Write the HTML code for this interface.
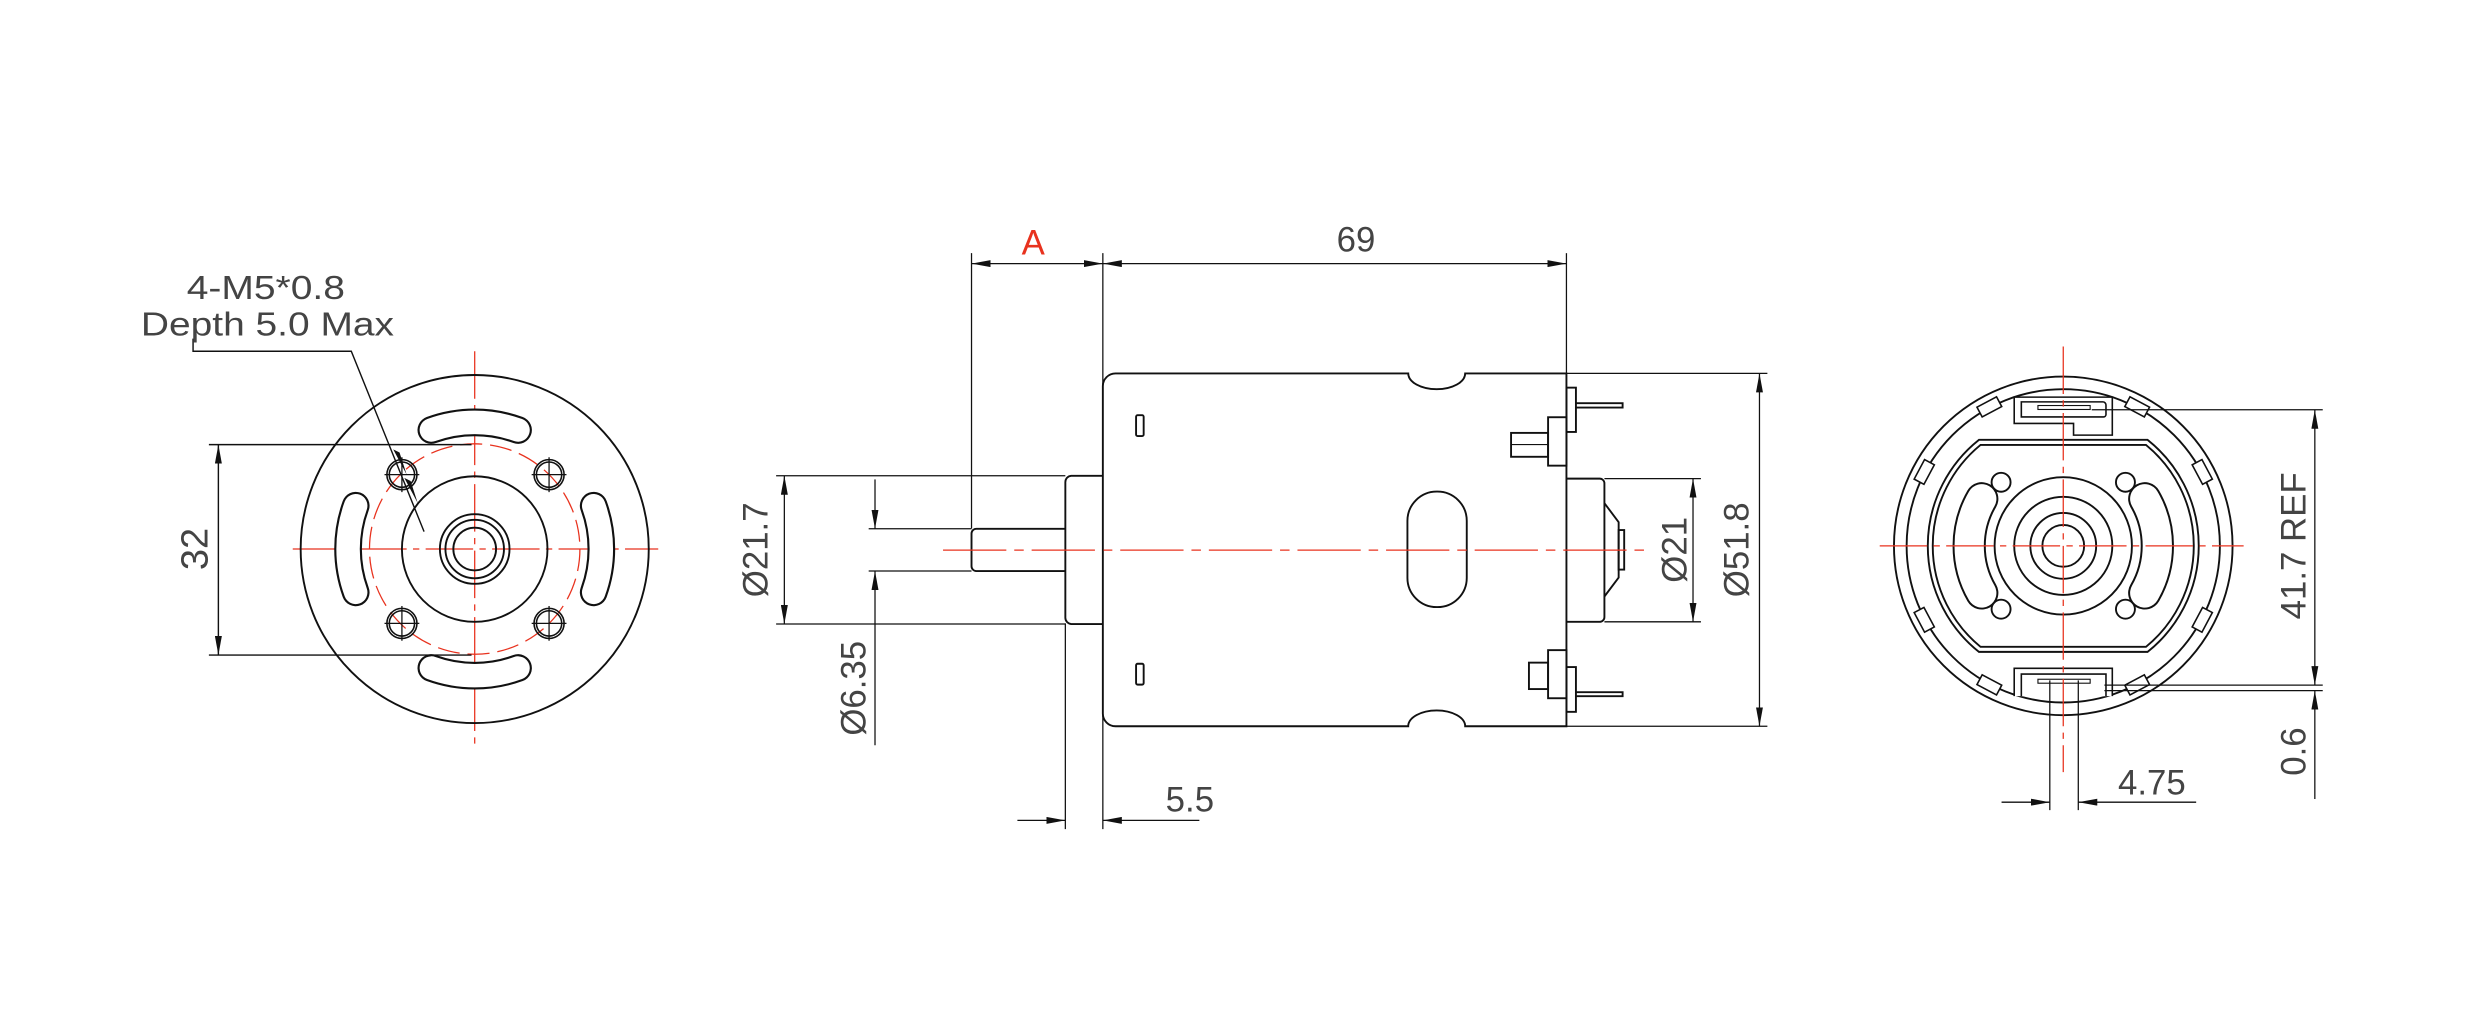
<!DOCTYPE html>
<html><head><meta charset="utf-8"><style>
html,body{margin:0;padding:0;background:#fff;}
svg{display:block;}
text{font-family:"Liberation Sans",sans-serif;fill:#444;}
</style></head><body>
<svg width="2481" height="1015" viewBox="0 0 1568 641.5" xmlns="http://www.w3.org/2000/svg">
<defs>
<marker id="ar" viewBox="0 0 12 4.4" refX="12" refY="2.2" markerWidth="12" markerHeight="4.4" markerUnits="userSpaceOnUse" orient="auto-start-reverse">
<path d="M0,0 L12,2.2 L0,4.4 Z" fill="#111"/>
</marker>
</defs>
<rect width="1568" height="641.5" fill="#fff"/>

<!-- ================= LEFT VIEW ================= -->
<g stroke="#e8321e" stroke-width="0.8" fill="none">
<line x1="185" y1="347" x2="416" y2="347" stroke-dasharray="30,4,4,4"/>
<line x1="300" y1="222" x2="300" y2="470" stroke-dasharray="30,4,4,4"/>
<circle cx="300" cy="347" r="66.5" stroke-dasharray="14,5"/>
</g>
<g stroke="#111" fill="none" stroke-width="1.2">
<circle cx="300" cy="347" r="110"/>
<circle cx="300" cy="347" r="46"/>
<circle cx="300" cy="347" r="22"/>
<circle cx="300" cy="347" r="18.5"/>
<circle cx="300" cy="347" r="13.5"/>
</g>
<g fill="none" stroke-linecap="round">
<g stroke="#111" stroke-width="17.5">
<path d="M272.6,271.8 A80,80 0 0 1 327.4,271.8"/>
<path d="M272.6,422.2 A80,80 0 0 0 327.4,422.2"/>
<path d="M224.8,319.6 A80,80 0 0 0 224.8,374.4"/>
<path d="M375.2,319.6 A80,80 0 0 1 375.2,374.4"/>
</g>
<g stroke="#fff" stroke-width="14.8">
<path d="M272.6,271.8 A80,80 0 0 1 327.4,271.8"/>
<path d="M272.6,422.2 A80,80 0 0 0 327.4,422.2"/>
<path d="M224.8,319.6 A80,80 0 0 0 224.8,374.4"/>
<path d="M375.2,319.6 A80,80 0 0 1 375.2,374.4"/>
</g>
</g>
<g stroke="#111" stroke-width="1" fill="none">
<circle cx="254" cy="300" r="9.5"/><circle cx="254" cy="300" r="8"/>
<circle cx="347" cy="300" r="9.5"/><circle cx="347" cy="300" r="8"/>
<circle cx="254" cy="394" r="9.5"/><circle cx="254" cy="394" r="8"/>
<circle cx="347" cy="394" r="9.5"/><circle cx="347" cy="394" r="8"/>
<path d="M243,300h22M254,289v22M336,300h22M347,289v22M243,394h22M254,383v22M336,394h22M347,383v22" stroke-width="0.8"/>
</g>
<g stroke="#111" stroke-width="0.9" fill="none">
<line x1="132" y1="281" x2="298" y2="281"/>
<line x1="132" y1="414" x2="298" y2="414"/>
<line x1="138" y1="281" x2="138" y2="414" marker-start="url(#ar)" marker-end="url(#ar)"/>
</g>
<text transform="translate(131,347) rotate(-90)" font-size="24" text-anchor="middle">32</text>
<g stroke="#111" stroke-width="0.9" fill="none">
<polyline points="122,214 122,222 222,222 268,336"/>
</g>
<path d="M248.5,284 L257,300 L252.5,286 Z" fill="#111"/>
<path d="M255.5,302 L264,318 L259.5,304 Z" fill="#111"/>
<text x="168" y="189" font-size="21" text-anchor="middle" textLength="100" lengthAdjust="spacingAndGlyphs">4-M5*0.8</text>
<text x="89" y="212" font-size="21" textLength="160" lengthAdjust="spacingAndGlyphs">Depth 5.0 Max</text>

<!-- ================= SIDE VIEW ================= -->
<g stroke="#111" stroke-width="1.2" fill="none">
<path d="M705,236 H890 A18,10 0 0 0 926,236 H990 V459 H926 A18,10 0 0 0 890,459 H705 A8,8 0 0 1 697,451 V244 A8,8 0 0 1 705,236 Z" fill="#fff"/>
<path d="M697,300.7 H677 A4,4 0 0 0 673.3,304.7 V390.4 A4,4 0 0 0 677,394.4 H697"/>
<path d="M673.3,334.2 H617 A3,3 0 0 0 614,337.2 V357.9 A3,3 0 0 0 617,360.9 H673.3"/>
<rect x="718" y="262.4" width="4.8" height="13.2" rx="1"/>
<rect x="718" y="419.5" width="4.8" height="13.2" rx="1"/>
<rect x="889.5" y="310.7" width="37.5" height="73" rx="18.5"/>
<path d="M990,302.5 H1011 A3,3 0 0 1 1014,305.5 V390 A3,3 0 0 1 1011,393 H990"/>
<path d="M1014,318 L1023,330 V365 L1014,377"/>
<rect x="1023" y="335" width="3.5" height="25"/>
<rect x="990" y="245" width="6" height="28"/>
<path d="M996,254.8 H1025.5 V257.6 H996"/>
<rect x="978.4" y="263.7" width="11.6" height="30.6"/>
<rect x="955" y="273.6" width="23.4" height="15.1"/>
<line x1="955" y1="281" x2="978.4" y2="281" stroke-width="0.7"/>
<rect x="978.4" y="410.9" width="11.6" height="30.4"/>
<rect x="966.3" y="418.8" width="12.1" height="16.7"/>
<rect x="990" y="421.6" width="6" height="28.3"/>
<path d="M996,437.5 H1025.5 V440 H996"/>
</g>
<line x1="596" y1="347.7" x2="1040" y2="347.7" stroke="#e8321e" stroke-width="0.8" stroke-dasharray="40,5,6,5"/>
<g stroke="#111" stroke-width="0.8" fill="none">
<line x1="614" y1="160" x2="614" y2="334"/>
<line x1="697" y1="160" x2="697" y2="524"/>
<line x1="990" y1="160" x2="990" y2="236"/>
<line x1="673.3" y1="394" x2="673.3" y2="524"/>
<line x1="614" y1="166.6" x2="697" y2="166.6" marker-start="url(#ar)" marker-end="url(#ar)"/>
<line x1="697" y1="166.6" x2="990" y2="166.6" marker-start="url(#ar)" marker-end="url(#ar)"/>
<line x1="490.5" y1="300.7" x2="673.3" y2="300.7"/>
<line x1="490.5" y1="394.4" x2="673.3" y2="394.4"/>
<line x1="495.7" y1="300.7" x2="495.7" y2="394.4" marker-start="url(#ar)" marker-end="url(#ar)"/>
<line x1="549" y1="334.2" x2="614" y2="334.2"/>
<line x1="549" y1="360.9" x2="614" y2="360.9"/>
<line x1="553" y1="303" x2="553" y2="334.2" marker-end="url(#ar)"/>
<line x1="553" y1="471" x2="553" y2="360.9" marker-end="url(#ar)"/>
<line x1="643" y1="518.5" x2="673.3" y2="518.5" marker-end="url(#ar)"/>
<line x1="758" y1="518.5" x2="697" y2="518.5" marker-end="url(#ar)"/>
<line x1="1014" y1="302.5" x2="1075" y2="302.5"/>
<line x1="1014" y1="393" x2="1075" y2="393"/>
<line x1="1070" y1="302.5" x2="1070" y2="393" marker-start="url(#ar)" marker-end="url(#ar)"/>
<line x1="990" y1="236" x2="1117" y2="236"/>
<line x1="990" y1="459" x2="1117" y2="459"/>
<line x1="1112" y1="236" x2="1112" y2="459" marker-start="url(#ar)" marker-end="url(#ar)"/>
</g>
<text x="653" y="161" font-size="22" text-anchor="middle" style="fill:#e8321e">A</text>
<text x="857" y="159" font-size="22" text-anchor="middle">69</text>
<text x="752" y="513" font-size="22" text-anchor="middle">5.5</text>
<text transform="translate(485,347.5) rotate(-90)" font-size="22" text-anchor="middle">Ø21.7</text>
<text transform="translate(547,435) rotate(-90)" font-size="22" text-anchor="middle">Ø6.35</text>
<text transform="translate(1066,347.5) rotate(-90)" font-size="22" text-anchor="middle">Ø21</text>
<text transform="translate(1105,347.5) rotate(-90)" font-size="22" text-anchor="middle">Ø51.8</text>

<!-- ================= RIGHT VIEW ================= -->
<g stroke="#111" stroke-width="1.2" fill="none">
<circle cx="1304" cy="345" r="107"/>
<circle cx="1304" cy="345" r="99"/>
<path d="M1250.7,278 H1357.3 A85.6,85.6 0 0 1 1357.3,412 H1250.7 A85.6,85.6 0 0 1 1250.7,278 Z"/>
<path d="M1251.7,281.2 H1356.3 A82.5,82.5 0 0 1 1356.3,408.8 H1251.7 A82.5,82.5 0 0 1 1251.7,281.2 Z"/>
<circle cx="1304" cy="345" r="43.4"/>
<circle cx="1304" cy="345" r="31"/>
<circle cx="1304" cy="345" r="20.8"/>
<circle cx="1304" cy="345" r="13.2"/>
<circle cx="1264.7" cy="304.8" r="6"/>
<circle cx="1343.3" cy="304.8" r="6"/>
<circle cx="1264.7" cy="385" r="6"/>
<circle cx="1343.3" cy="385" r="6"/>
</g>
<g fill="none" stroke-linecap="round">
<g stroke="#111" stroke-width="21">
<path d="M1252.5,315.25 A59.5,59.5 0 0 0 1252.5,374.75"/>
<path d="M1355.5,315.25 A59.5,59.5 0 0 1 1355.5,374.75"/>
</g>
<g stroke="#fff" stroke-width="18.5">
<path d="M1252.5,315.25 A59.5,59.5 0 0 0 1252.5,374.75"/>
<path d="M1355.5,315.25 A59.5,59.5 0 0 1 1355.5,374.75"/>
</g>
</g>
<g stroke="#111" stroke-width="1" fill="#fff">
<rect x="1297" y="242" width="14" height="7" transform="rotate(28 1304 345)"/>
<rect x="1297" y="242" width="14" height="7" transform="rotate(-28 1304 345)"/>
<rect x="1297" y="242" width="14" height="7" transform="rotate(62 1304 345)"/>
<rect x="1297" y="242" width="14" height="7" transform="rotate(-62 1304 345)"/>
<rect x="1297" y="242" width="14" height="7" transform="rotate(118 1304 345)"/>
<rect x="1297" y="242" width="14" height="7" transform="rotate(-118 1304 345)"/>
<rect x="1297" y="242" width="14" height="7" transform="rotate(152 1304 345)"/>
<rect x="1297" y="242" width="14" height="7" transform="rotate(-152 1304 345)"/>
<path d="M1273,251 H1335 V275 H1310.5 V267.6 H1273 Z"/>
<path d="M1277.5,254 H1329 A2,2 0 0 1 1331,256 V262 A1.5,1.5 0 0 1 1329.5,263.5 H1277.5 Z"/>
<rect x="1288" y="256.3" width="33" height="2.5" stroke-width="0.7"/>
<path d="M1273,440 V422.4 H1335 V440"/>
<path d="M1277.5,440 V426 H1331 V440"/>
<rect x="1288" y="429.3" width="33" height="2.5" stroke-width="0.7"/>
</g>
<g stroke="#e8321e" stroke-width="0.8" fill="none">
<line x1="1188" y1="345" x2="1418" y2="345" stroke-dasharray="30,4,4,4"/>
<line x1="1304" y1="219" x2="1304" y2="488" stroke-dasharray="30,4,4,4"/>
</g>
<g stroke="#111" stroke-width="0.8" fill="none">
<line x1="1322" y1="259" x2="1468" y2="259"/>
<line x1="1330" y1="433" x2="1468" y2="433"/>
<line x1="1330" y1="436.5" x2="1468" y2="436.5"/>
<line x1="1463" y1="259" x2="1463" y2="433" marker-start="url(#ar)" marker-end="url(#ar)"/>
<line x1="1463" y1="505" x2="1463" y2="436.5" marker-end="url(#ar)"/>
<line x1="1295.5" y1="430" x2="1295.5" y2="512"/>
<line x1="1313.5" y1="430" x2="1313.5" y2="512"/>
<line x1="1265" y1="507" x2="1295.5" y2="507" marker-end="url(#ar)"/>
<line x1="1388" y1="507" x2="1313.5" y2="507" marker-end="url(#ar)"/>
</g>
<text transform="translate(1457,345) rotate(-90)" font-size="22" text-anchor="middle">41.7 REF</text>
<text transform="translate(1457,475) rotate(-90)" font-size="22" text-anchor="middle">0.6</text>
<text x="1360" y="502" font-size="22" text-anchor="middle">4.75</text>
</svg>
</body></html>
